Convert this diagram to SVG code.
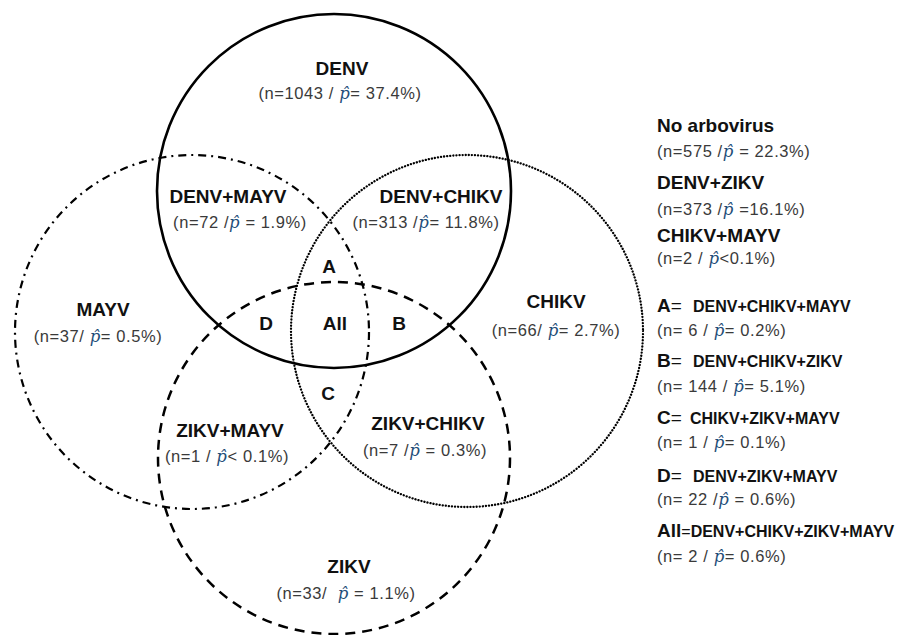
<svg xmlns="http://www.w3.org/2000/svg" width="908" height="635" viewBox="0 0 908 635">
<style>
.ring{fill:none;stroke:#000}
.solid{stroke-width:2.6}
.dashdot{stroke-width:2.2;stroke-dasharray:8 5 2 5}
.dotted{stroke-width:2.3;stroke-dasharray:0.1 3;stroke-linecap:round}
.dashed{stroke-width:2.5;stroke-dasharray:10 7}
.t{font-family:"Liberation Sans",Arial,sans-serif;font-weight:bold;font-size:19px;fill:#111}
.s{font-family:"Liberation Sans",Arial,sans-serif;font-size:16.5px;letter-spacing:0.6px;fill:#3a3a3a}
.h{font-family:"Liberation Sans",Arial,sans-serif;font-weight:bold;font-size:16px;fill:#111}
.eq{font-weight:normal}
.p{font-family:"DejaVu Serif","Liberation Serif",serif;font-style:italic;fill:#1f4e79}
.m{text-anchor:middle}
</style>
<rect width="908" height="635" fill="#fff"/>
<g id="denv">
<circle class="ring solid" cx="334" cy="191" r="177"/>
<text class="t m" x="342" y="75">DENV</text>
<text class="s m" x="340" y="99">(n=1043 / <tspan class="p">p̂</tspan>= 37.4%)</text>
</g>
<g id="mayv">
<circle class="ring dashdot" cx="192" cy="332" r="177"/>
<text class="t m" x="103" y="316">MAYV</text>
<text class="s m" x="98" y="342">(n=37/ <tspan class="p">p̂</tspan>= 0.5%)</text>
</g>
<g id="chikv">
<circle class="ring dotted" cx="467" cy="331" r="176"/>
<text class="t m" x="556" y="308">CHIKV</text>
<text class="s m" x="556" y="336">(n=66/ <tspan class="p">p̂</tspan>= 2.7%)</text>
</g>
<g id="zikv">
<circle class="ring dashed" cx="334" cy="458" r="176"/>
<text class="t m" x="349" y="573">ZIKV</text>
<text class="s m" x="346" y="599" xml:space="preserve">(n=33/  <tspan class="p">p̂</tspan> = 1.1%)</text>
</g>
<g id="denv-mayv">
<text class="t m" x="228" y="203">DENV+MAYV</text>
<text class="s m" x="240" y="228">(n=72 /<tspan class="p">p̂</tspan> = 1.9%)</text>
</g>
<g id="denv-chikv">
<text class="t m" x="441" y="203">DENV+CHIKV</text>
<text class="s m" x="426" y="228">(n=313 /<tspan class="p">p̂</tspan>= 11.8%)</text>
</g>
<g id="zikv-mayv">
<text class="t m" x="230" y="437">ZIKV+MAYV</text>
<text class="s m" x="227" y="462">(n=1 / <tspan class="p">p̂</tspan>&lt; 0.1%)</text>
</g>
<g id="zikv-chikv">
<text class="t m" x="428" y="430">ZIKV+CHIKV</text>
<text class="s m" x="425" y="456">(n=7 /<tspan class="p">p̂</tspan> = 0.3%)</text>
</g>
<g id="region-a"><text class="t m" x="329" y="273">A</text></g>
<g id="region-d"><text class="t m" x="266" y="330">D</text></g>
<g id="region-all"><text class="t m" x="335" y="330">All</text></g>
<g id="region-b"><text class="t m" x="399" y="330">B</text></g>
<g id="region-c"><text class="t m" x="328" y="400">C</text></g>
<g id="legend">
<text class="t" x="657" y="132">No arbovirus</text>
<text class="s" x="657" y="157">(n=575 /<tspan class="p">p̂</tspan> = 22.3%)</text>
<text class="t" x="657" y="189">DENV+ZIKV</text>
<text class="s" x="657" y="215">(n=373 /<tspan class="p">p̂</tspan> =16.1%)</text>
<text class="t" x="657" y="242">CHIKV+MAYV</text>
<text class="s" x="657" y="264">(n=2 / <tspan class="p">p̂</tspan>&lt;0.1%)</text>
<text class="t" x="657" y="312">A<tspan class="eq">=</tspan></text>
<text class="h" x="693" y="312">DENV+CHIKV+MAYV</text>
<text class="s" x="657" y="336">(n= 6 / <tspan class="p">p̂</tspan>= 0.2%)</text>
<text class="t" x="657" y="367">B<tspan class="eq">=</tspan></text>
<text class="h" x="693" y="367">DENV+CHIKV+ZIKV</text>
<text class="s" x="657" y="392">(n= 144 / <tspan class="p">p̂</tspan>= 5.1%)</text>
<text class="t" x="657" y="424">C<tspan class="eq">=</tspan></text>
<text class="h" x="690" y="424">CHIKV+ZIKV+MAYV</text>
<text class="s" x="657" y="448">(n= 1 / <tspan class="p">p̂</tspan>= 0.1%)</text>
<text class="t" x="657" y="482">D<tspan class="eq">=</tspan></text>
<text class="h" x="693" y="482">DENV+ZIKV+MAYV</text>
<text class="s" x="657" y="505">(n= 22 /<tspan class="p">p̂</tspan> = 0.6%)</text>
<text class="t" x="657" y="537">All<tspan class="h eq">=</tspan><tspan class="h">DENV+CHIKV+ZIKV+MAYV</tspan></text>
<text class="s" x="657" y="562">(n= 2 / <tspan class="p">p̂</tspan>= 0.6%)</text>
</g>
</svg>
